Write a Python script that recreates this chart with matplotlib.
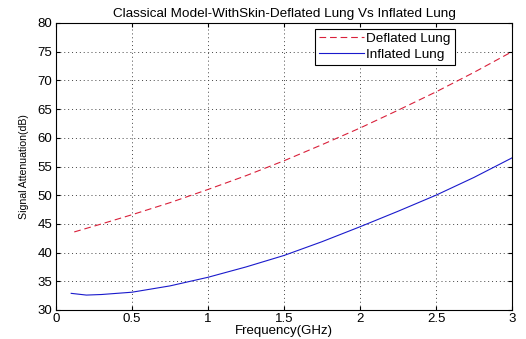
import matplotlib
matplotlib.use('Agg')
import matplotlib.pyplot as plt

# Signal attenuation vs frequency, classical model with skin layer
freq_deflated = [0.12, 0.3, 0.5, 0.75, 1.0, 1.25, 1.5, 1.75, 2.0, 2.25, 2.5, 2.75, 3.0]
atten_deflated = [43.6, 45.0, 46.6, 48.7, 51.0, 53.4, 56.0, 58.8, 61.7, 64.8, 68.0, 71.4, 75.0]

freq_inflated = [0.1, 0.2, 0.3, 0.5, 0.75, 1.0, 1.25, 1.5, 1.75, 2.0, 2.25, 2.5, 2.75, 3.0]
atten_inflated = [32.9, 32.6, 32.7, 33.1, 34.2, 35.7, 37.5, 39.5, 41.9, 44.5, 47.2, 50.0, 53.1, 56.5]

plt.rcParams['font.family'] = ['Liberation Sans', 'DejaVu Sans']

fig = plt.figure(figsize=(5.26, 3.39), dpi=100)
ax = fig.add_axes([56 / 526, 1 - 310 / 339, 456 / 526, 287 / 339])

ax.plot(freq_deflated, atten_deflated, color='#d9203a', linestyle=(0, (6, 3.5)), linewidth=0.8, label='Deflated Lung')
ax.plot(freq_inflated, atten_inflated, color='#1a1acc', linestyle='-', linewidth=0.8, label='Inflated Lung')

ax.set_xlim(0, 3)
ax.set_ylim(30, 80)
ax.set_xticks([0, 0.5, 1, 1.5, 2, 2.5, 3])
ax.set_xticklabels(['0', '0.5', '1', '1.5', '2', '2.5', '3'])
ax.set_yticks(range(30, 81, 5))

ax.grid(True, linestyle=(0, (1, 3)), color='#444444', linewidth=0.7)
ax.tick_params(direction='in', length=3, labelsize=9.5, top=True, right=True, pad=2.5)
for spine in ax.spines.values():
    spine.set_linewidth(0.8)

ax.set_title('Classical Model-WithSkin-Deflated Lung Vs Inflated Lung', fontsize=9.7, pad=4)
ax.set_xlabel('Frequency(GHz)', fontsize=9.5, labelpad=0)
ax.set_ylabel('Signal Attenuation(dB)', fontsize=7.6, labelpad=6)

leg = ax.legend(loc='upper left', bbox_to_anchor=(0.568, 0.98), fontsize=9.7,
                fancybox=False, framealpha=1, edgecolor='black', handlelength=3.3,
                borderpad=0.3, labelspacing=0.25, handletextpad=0.2, borderaxespad=0)
leg.get_frame().set_linewidth(0.8)

fig.savefig('out.png', dpi=100)
